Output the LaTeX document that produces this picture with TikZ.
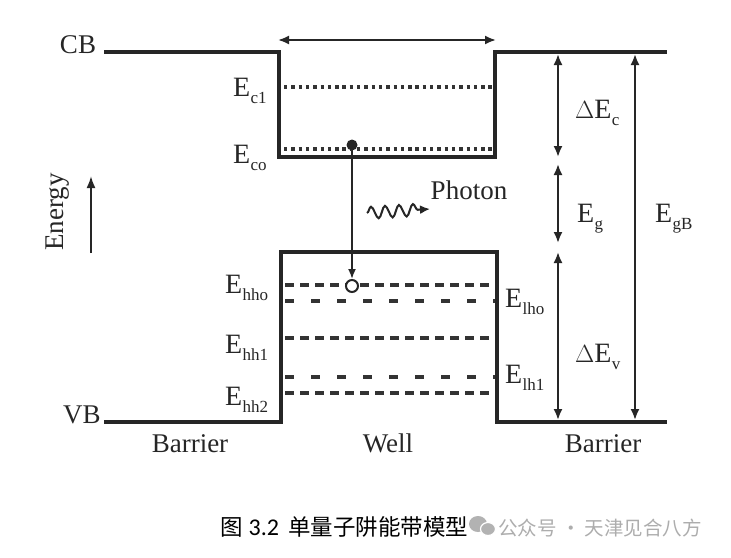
\documentclass[tikz,border=0pt]{standalone}
\usepackage{fontspec}
\setmainfont{Liberation Serif}
\newfontfamily\cjk{Noto Sans CJK SC}
\newfontfamily\capnum{Carlito}
\usetikzlibrary{arrows.meta,decorations.pathmorphing}
\newcommand\ELab[2]{#1\kern0.3pt\raisebox{-0.28em}{\fontsize{17}{17}\selectfont #2}}
\begin{document}
\begin{tikzpicture}[x=1pt,y=-1pt,
 band/.style={line width=4pt, line join=miter, draw=black!85},
 lvldot/.style={line width=3.6pt, dash pattern=on 3.4pt off 3.9pt, draw=black!80},
 hhdash/.style={line width=3.6pt, dash pattern=on 9pt off 6pt, draw=black!80},
 lhdash/.style={line width=3.6pt, dash pattern=on 9pt off 17pt, draw=black!80},
 dim/.style={line width=2pt, {Latex[length=11pt,width=9pt]}-{Latex[length=11pt,width=9pt]}, draw=black!85},
 lbl/.style={font=\fontsize{27}{30}\selectfont, inner sep=0pt, text=black!85},
 elbl/.style={font=\fontsize{28}{30}\selectfont, inner sep=0pt, text=black!85},
 wm/.style={font=\cjk\fontsize{19.5}{22}\selectfont, inner sep=0pt, text=black!32},
]
\useasboundingbox[fill=white] (0,0) rectangle (731,557);

% conduction band
\coordinate (cbL) at (104,52);
\coordinate (cbA) at (279,52);
\coordinate (cbB) at (279,157);
\coordinate (cbC) at (495,157);
\coordinate (cbD) at (495,52);
\coordinate (cbR) at (667,52);
\draw[band] (cbL) -- (cbA) -- (cbB) -- (cbC) -- (cbD) -- (cbR);

% valence band
\coordinate (vbL) at (104,422);
\coordinate (vbA) at (281,422);
\coordinate (vbB) at (281,252);
\coordinate (vbC) at (497,252);
\coordinate (vbD) at (497,422);
\coordinate (vbR) at (667,422);
\draw[band] (vbL) -- (vbA) -- (vbB) -- (vbC) -- (vbD) -- (vbR);

% well width arrow
\coordinate (wA) at (278,40);
\coordinate (wB) at (496,40);
\draw[dim] (wA) -- (wB);

% conduction levels
\coordinate (c1a) at (284,87);  \coordinate (c1b) at (493,87);
\coordinate (c0a) at (284,149); \coordinate (c0b) at (493,149);
\draw[lvldot] (c1a) -- (c1b);
\draw[lvldot] (c0a) -- (c0b);

% valence levels
\coordinate (h0a) at (285,285); \coordinate (h0b) at (495,285);
\coordinate (l0a) at (285,301); \coordinate (l0b) at (495,301);
\coordinate (h1a) at (285,338); \coordinate (h1b) at (495,338);
\coordinate (l1a) at (285,377); \coordinate (l1b) at (495,377);
\coordinate (h2a) at (285,393); \coordinate (h2b) at (495,393);
\draw[hhdash] (h0a) -- (h0b);
\draw[lhdash] (l0a) -- (l0b);
\draw[hhdash] (h1a) -- (h1b);
\draw[lhdash] (l1a) -- (l1b);
\draw[hhdash] (h2a) -- (h2b);

% electron and hole
\node[circle, fill=black!85, inner sep=0pt, minimum size=11pt] (el) at (352,145) {};
\node[circle, draw=black!85, fill=white, line width=2pt, inner sep=0pt, minimum size=12pt] (ho) at (352,286) {};
\draw[line width=1.8pt, draw=black!85, -{Latex[length=10pt,width=8pt]}] (el) -- (ho);

% photon
\coordinate (phA) at (367,213);
\coordinate (phB) at (430,209);
\draw[line width=2pt, draw=black!85, -{Latex[length=10pt,width=9pt]},
      decorate, decoration={snake, segment length=14pt, amplitude=6pt, post length=8pt}] (phA) -- (phB);
\node[lbl] (photon) at (469,190) {Photon};

% right dimension arrows
\coordinate (r1) at (558,54);
\coordinate (r2) at (558,157);
\coordinate (r3) at (558,164);
\coordinate (r4) at (558,243);
\coordinate (r5) at (558,252);
\coordinate (r6) at (558,420);
\draw[dim] (r1) -- (r2);
\draw[dim] (r3) -- (r4);
\draw[dim] (r5) -- (r6);
\coordinate (g1) at (635,54);
\coordinate (g2) at (635,420);
\draw[dim] (g1) -- (g2);

% energy axis
\coordinate (enA) at (91,253);
\coordinate (enB) at (91,176);
\draw[line width=2pt, draw=black!85, -{Latex[length=12pt,width=9pt]}] (enA) -- (enB);
\node[lbl, rotate=90] (energy) at (58,212) {Energy};

% band labels
\node[lbl] (cb) at (78,45) {CB};
\node[lbl] (vb) at (82,415) {VB};
\node[lbl, anchor=base] (bar1) at (190,452) {Barrier};
\node[lbl, anchor=base] (well) at (388,452) {Well};
\node[lbl, anchor=base] (bar2) at (603,452) {Barrier};

% level labels
\node[elbl, anchor=base west] (ec1) at (233,96) {\ELab{E}{c1}};
\node[elbl, anchor=base west] (ec0) at (233,163) {\ELab{E}{co}};
\node[elbl, anchor=base west] (ehh0) at (225,293) {\ELab{E}{hho}};
\node[elbl, anchor=base west] (ehh1) at (225,353) {\ELab{E}{hh1}};
\node[elbl, anchor=base west] (ehh2) at (225,405) {\ELab{E}{hh2}};
\node[elbl, anchor=base west] (elh0) at (505,307) {\ELab{E}{lho}};
\node[elbl, anchor=base west] (elh1) at (505,383) {\ELab{E}{lh1}};
\node[elbl, anchor=base west] (dec) at (575,118) {\ELab{$\Delta$E}{c}};
\node[elbl, anchor=base west] (eg) at (577,222) {\ELab{E}{g}};
\node[elbl, anchor=base west] (egb) at (655,222) {\ELab{E}{gB}};
\node[elbl, anchor=base west] (dev) at (575,362) {\ELab{$\Delta$E}{v}};

% caption
\node[font=\cjk\fontsize{22.5}{24}\selectfont, inner sep=0pt, anchor=base west] (cap) at (220,535) {图\hspace{6pt}{\capnum\fontsize{24}{24}\selectfont 3.2}\hspace{9pt}单量子阱能带模型};
\fill[black!30] (478,524) ellipse [x radius=9pt, y radius=8pt];
\draw[white, line width=1.2pt, fill=black!30] (488,529) ellipse [x radius=7.5pt, y radius=6.5pt];
\node[wm, anchor=base west] (wmark) at (498,535) {公众号 · 天津见合八方};
\end{tikzpicture}
\end{document}
